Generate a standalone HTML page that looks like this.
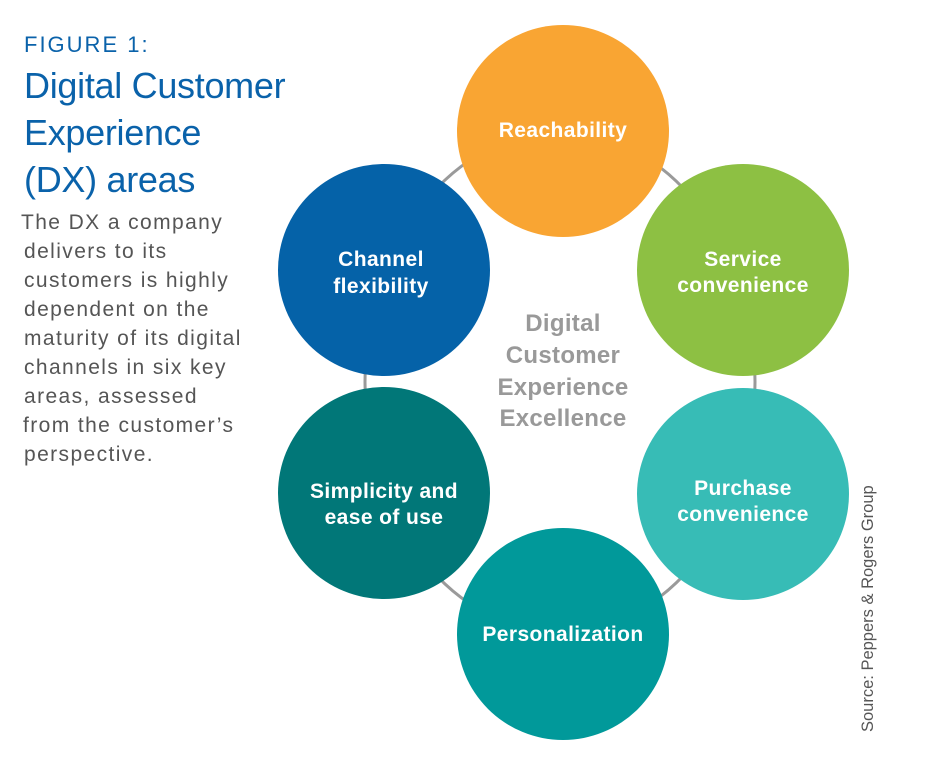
<!DOCTYPE html>
<html><head><meta charset="utf-8"><style>
body{margin:0;background:#fff;width:940px;height:775px;overflow:hidden;font-family:"Liberation Sans",sans-serif}
</style></head><body>
<svg width="940" height="775" viewBox="0 0 940 775" xmlns="http://www.w3.org/2000/svg" font-family="Liberation Sans, sans-serif">
<text x="24" y="52" font-size="22" fill="#0a62aa" letter-spacing="2">FIGURE 1:</text>
<text font-size="36" fill="#0a62aa" letter-spacing="-0.3">
<tspan x="24" y="98">Digital Customer</tspan>
<tspan x="24" y="145">Experience</tspan>
<tspan x="24" y="192">(DX) areas</tspan></text>
<text font-size="21" fill="#555" letter-spacing="1.4">
<tspan x="21" y="229">The DX a company</tspan>
<tspan x="24" y="258">delivers to its</tspan>
<tspan x="24" y="287">customers is highly</tspan>
<tspan x="24" y="316">dependent on the</tspan>
<tspan x="24" y="345">maturity of its digital</tspan>
<tspan x="24" y="374">channels in six key</tspan>
<tspan x="24" y="403">areas, assessed</tspan>
<tspan x="23" y="432">from the customer’s</tspan>
<tspan x="24" y="461">perspective.</tspan></text>
<ellipse cx="560" cy="382" rx="195" ry="250" fill="none" stroke="#9a9a9a" stroke-width="3"/>
<circle cx="563" cy="131" r="106" fill="#f9a533"/>
<circle cx="743" cy="270" r="106" fill="#8dc043"/>
<circle cx="743" cy="494" r="106" fill="#37bcb6"/>
<circle cx="563" cy="634" r="106" fill="#01999a"/>
<circle cx="384" cy="493" r="106" fill="#017778"/>
<circle cx="384" cy="270" r="106" fill="#0562a8"/>
<g font-size="21" font-weight="bold" fill="#fff" text-anchor="middle" letter-spacing="0.4">
<text x="563" y="137">Reachability</text>
<text x="743" y="266">Service</text><text x="743" y="292">convenience</text>
<text x="743" y="495">Purchase</text><text x="743" y="521">convenience</text>
<text x="563" y="641">Personalization</text>
<text x="384" y="498">Simplicity and</text><text x="384" y="524">ease of use</text>
<text x="381" y="266">Channel</text><text x="381" y="293">flexibility</text>
</g>
<g font-size="24" font-weight="bold" fill="#999" text-anchor="middle" letter-spacing="0.3">
<text x="563" y="331">Digital</text><text x="563" y="363">Customer</text>
<text x="563" y="395">Experience</text><text x="563" y="426">Excellence</text>
</g>
<text transform="translate(873,732) rotate(-90)" font-size="16.5" fill="#555">Source: Peppers &amp; Rogers Group</text>
</svg>
</body></html>
